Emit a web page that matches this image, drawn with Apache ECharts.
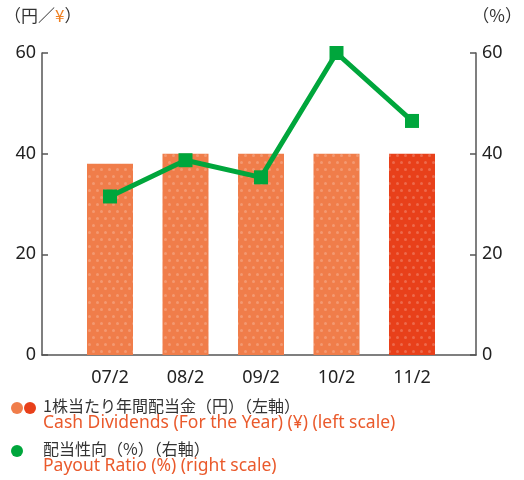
<!DOCTYPE html>
<html>
<head>
<meta charset="utf-8">
<script src="https://cdn.jsdelivr.net/npm/echarts@6/dist/echarts.min.js"></script>
<style>
  html, body { margin: 0; padding: 0; background: #fff; }
  #main { width: 524px; height: 480px; }
</style>
</head>
<body>
<div id="main"></div>
<script>
var myChart = echarts.init(document.getElementById('main'));

// データ
var years = ['07/2', '08/2', '09/2', '10/2', '11/2'];
var dividends = [38, 40, 40, 40, 40];
var payoutRatio = [31.5, 38.7, 35.3, 60, 46.5];
var yTicks = [0, 20, 40, 60];

var FONT = '"Noto Sans CJK JP", "Noto Sans", sans-serif';
var LATIN = '"Noto Sans", "Noto Sans CJK JP", sans-serif';
var barColor = '#F07D4A';
var barColorLast = '#E8401A';
var lineColor = '#00A63C';
var engColor = '#EA5A2C';

function dotDecal() {
  return {
    symbol: 'circle',
    symbolSize: 1,
    color: 'rgba(255,255,255,0.22)',
    dashArrayX: [[3, 5], [0, 4, 3, 1]],
    dashArrayY: [3, 3.2],
    rotation: 0
  };
}

var barData = dividends.map(function (v, i) {
  return {
    value: v,
    itemStyle: {
      color: i === dividends.length - 1 ? barColorLast : barColor,
      decal: dotDecal()
    }
  };
});

var yBase = {
  min: yTicks[0],
  max: yTicks[yTicks.length - 1],
  interval: 20
};

var axisStyle = { color: '#555', width: 1.5 };

var option = {
  animation: false,
  textStyle: { fontFamily: FONT },
  grid: [
    { left: 42, right: 48, top: 53, bottom: 125 },
    { left: 72.25, right: 74.25, top: 53, bottom: 125 }
  ],
  xAxis: [
    {
      type: 'value', gridIndex: 0, min: 0, max: 1,
      axisLine: { show: true, lineStyle: axisStyle },
      axisTick: { show: false }, axisLabel: { show: false }, splitLine: { show: false }
    },
    {
      type: 'category', gridIndex: 1, data: years,
      axisLine: { show: false }, axisTick: { show: false },
      axisLabel: { color: '#222', fontSize: 18, margin: 14, fontFamily: LATIN }
    }
  ],
  yAxis: [
    Object.assign({
      type: 'value', gridIndex: 0, position: 'left',
      axisLine: { show: true, lineStyle: axisStyle },
      axisTick: { show: true, inside: true, length: 6, lineStyle: axisStyle },
      axisLabel: { color: '#222', fontSize: 18, margin: 6, fontFamily: LATIN },
      splitLine: { show: false }
    }, yBase),
    Object.assign({
      type: 'value', gridIndex: 0, position: 'right',
      axisLine: { show: true, lineStyle: axisStyle },
      axisTick: { show: true, inside: true, length: 6, lineStyle: axisStyle },
      axisLabel: { color: '#222', fontSize: 18, margin: 6, fontFamily: LATIN },
      splitLine: { show: false }
    }, yBase),
    Object.assign({ type: 'value', gridIndex: 1, show: false }, yBase),
    Object.assign({ type: 'value', gridIndex: 1, show: false }, yBase)
  ],
  series: [
    {
      name: '1株当たり年間配当金',
      type: 'bar',
      xAxisIndex: 1, yAxisIndex: 2,
      barWidth: 46,
      data: barData
    },
    {
      name: '配当性向',
      type: 'line',
      xAxisIndex: 1, yAxisIndex: 3,
      data: payoutRatio,
      symbol: 'rect',
      symbolSize: 14,
      lineStyle: { color: lineColor, width: 5 },
      itemStyle: { color: lineColor }
    }
  ],
  graphic: [
    {
      type: 'text', left: 4, top: 7,
      style: {
        text: '（円／{y|¥}）',
        font: '17px ' + FONT, fill: '#333',
        rich: { y: { fill: '#F08020', font: '17px ' + FONT } }
      }
    },
    {
      type: 'text', right: 2, top: 7,
      style: { text: '（%）', font: '17px ' + FONT, fill: '#333' }
    },
    { type: 'circle', shape: { cx: 17, cy: 408, r: 6 }, style: { fill: barColor } },
    { type: 'circle', shape: { cx: 30, cy: 408, r: 6 }, style: { fill: barColorLast } },
    { type: 'circle', shape: { cx: 17, cy: 451, r: 6 }, style: { fill: lineColor } },
    {
      type: 'text', left: 43, top: 398,
      style: { text: '1株当たり年間配当金（円）（左軸）', font: '16px ' + FONT, fill: '#333' }
    },
    {
      type: 'text', left: 43, top: 414,
      style: { text: 'Cash Dividends (For the Year) (¥) (left scale)', font: '17.5px ' + LATIN, fill: engColor }
    },
    {
      type: 'text', left: 43, top: 441,
      style: { text: '配当性向（%）（右軸）', font: '16px ' + FONT, fill: '#333' }
    },
    {
      type: 'text', left: 43, top: 457,
      style: { text: 'Payout Ratio (%) (right scale)', font: '17.5px ' + LATIN, fill: engColor }
    }
  ]
};

myChart.setOption(option);
</script>
</body>
</html>
